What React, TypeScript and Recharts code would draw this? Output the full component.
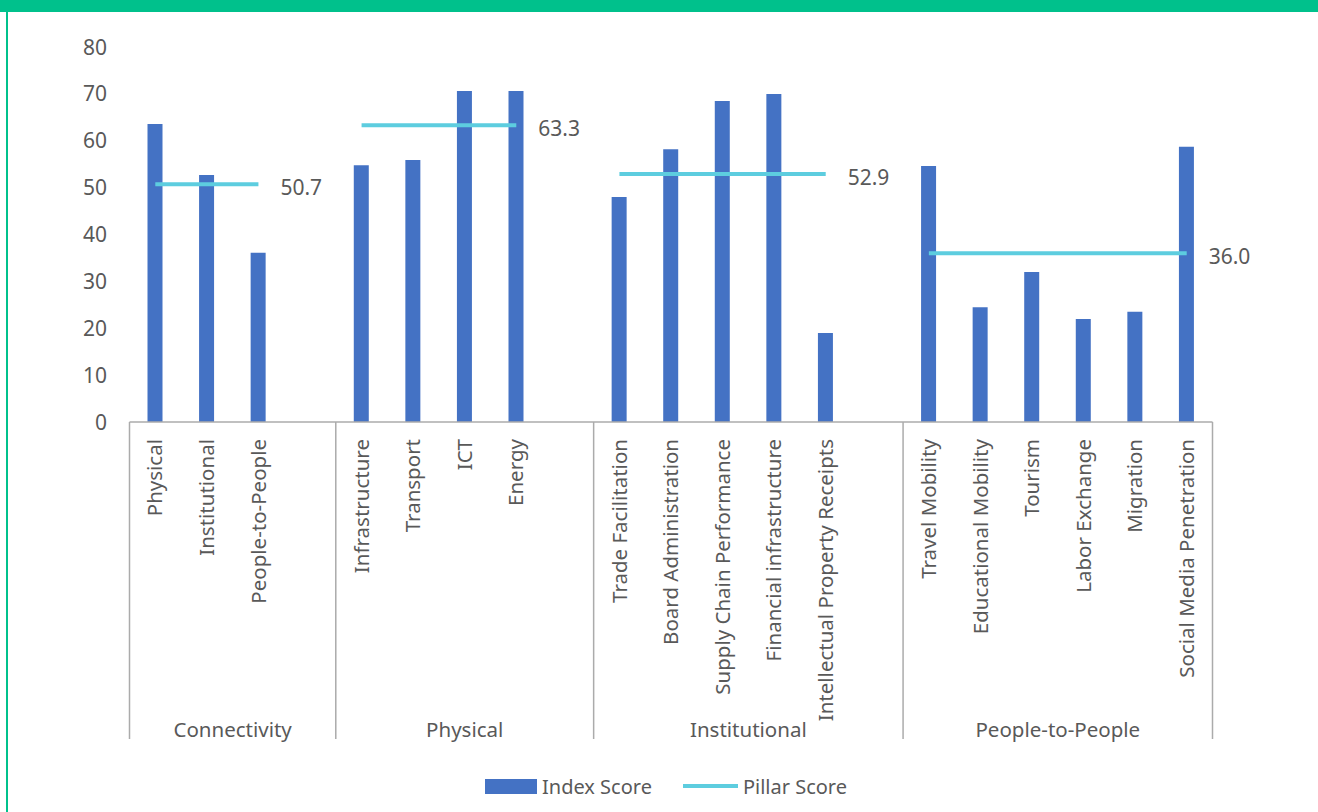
import React from 'react';
import { ComposedChart, Bar, Line, XAxis, YAxis, LabelList } from 'recharts';

const groupNames = ['Connectivity', 'Physical', 'Institutional', 'People-to-People'];
const groupItems = [
  ['Physical', 'Institutional', 'People-to-People'],
  ['Infrastructure', 'Transport', 'ICT', 'Energy'],
  ['Trade Facilitation', 'Board Administration', 'Supply Chain Performance', 'Financial infrastructure', 'Intellectual Property Receipts'],
  ['Travel Mobility', 'Educational Mobility', 'Tourism', 'Labor Exchange', 'Migration', 'Social Media Penetration'],
];
const indexScores = [
  [63.6, 52.7, 36.1],
  [54.8, 55.9, 70.6, 70.6],
  [48.0, 58.2, 68.5, 70.0, 19.0],
  [54.6, 24.5, 32.0, 22.0, 23.5, 58.7],
];
const pillarScores = [50.7, 63.3, 52.9, 36.0];
// a blank category follows each group except the last one
const blankAfter = [true, true, true, false];
const yTicks = [0, 10, 20, 30, 40, 50, 60, 70, 80];

type Row = {
  key: string;
  label: string;
  index: number | null;
  pillar: number | null;
  group: number;
  first: boolean;
  last: boolean;
};

const rows: Row[] = [];
groupItems.forEach((items, g) => {
  items.forEach((label, i) => {
    rows.push({
      key: `g${g}-${i}`,
      label,
      index: indexScores[g][i],
      pillar: pillarScores[g],
      group: g,
      first: i === 0,
      last: i === items.length - 1,
    });
  });
  if (blankAfter[g]) {
    rows.push({ key: `gap${g}`, label: '', index: null, pillar: null, group: g, first: false, last: false });
  }
});
const groupSpan = groupNames.map((_, g) => rows.filter(r => r.group === g).length);

const W = 1318;
const H = 812;
const PLOT_LEFT = 129.5;
const PLOT_RIGHT = 1212.5;
const PLOT_TOP = 47;
const PLOT_BOTTOM = 422;
const DIVIDER_BOTTOM = 739;
const BAND = (PLOT_RIGHT - PLOT_LEFT) / rows.length;
const FONT = "'Noto Sans', sans-serif";
const TEXT = '#595959';
const AXIS = '#ABABAB';
const BLUE = '#4472C4';
const CYAN = '#5DCDDF';
const GREEN = '#00C18C';

function CategoryTick(props: any) {
  const { x, payload } = props;
  const row = rows[payload.index];
  if (!row) return null;
  const left = x - BAND / 2;
  const isLastRow = payload.index === rows.length - 1;
  return (
    <g>
      {row.label && (
        <text
          x={x}
          y={439}
          dy="0.35em"
          transform={`rotate(-90, ${x}, 439)`}
          textAnchor="end"
          fill={TEXT}
          fontSize={20.5}
          fontFamily={FONT}
        >
          {row.label}
        </text>
      )}
      {row.first && (
        <>
          <line x1={left} y1={PLOT_BOTTOM} x2={left} y2={DIVIDER_BOTTOM} stroke={AXIS} strokeWidth={1.5} />
          <text
            x={left + (groupSpan[row.group] * BAND) / 2}
            y={737}
            textAnchor="middle"
            fill={TEXT}
            fontSize={20.5}
            fontFamily={FONT}
          >
            {groupNames[row.group]}
          </text>
        </>
      )}
      {isLastRow && (
        <line x1={x + BAND / 2} y1={PLOT_BOTTOM} x2={x + BAND / 2} y2={DIVIDER_BOTTOM} stroke={AXIS} strokeWidth={1.5} />
      )}
    </g>
  );
}

function ValueTick(props: any) {
  const { y, payload } = props;
  return (
    <text x={107} y={y} dy="0.36em" textAnchor="end" fill={TEXT} fontSize={21} fontFamily={FONT}>
      {payload.value}
    </text>
  );
}

function PillarLabel(props: any) {
  const { x, y, value, index } = props;
  const row = rows[index];
  if (!row || !row.last || value == null) return null;
  return (
    <text x={x + 22} y={y + 11} fill={TEXT} fontSize={21} fontFamily={FONT}>
      {Number(value).toFixed(1)}
    </text>
  );
}

export default function App() {
  return (
    <div style={{ position: 'fixed', left: 0, top: 0, width: W, height: H, background: '#fff', overflow: 'hidden' }}>
      <div style={{ position: 'absolute', left: 0, top: 0, width: W, height: 12, background: GREEN }} />
      <div style={{ position: 'absolute', left: 6, top: 0, width: 2, height: H, background: GREEN }} />
      <ComposedChart
        width={W}
        height={H}
        data={rows}
        margin={{ top: PLOT_TOP, right: W - PLOT_RIGHT, bottom: 0, left: PLOT_LEFT - 60 }}
      >
        <XAxis
          dataKey="key"
          interval={0}
          tickLine={false}
          axisLine={{ stroke: AXIS, strokeWidth: 1.5 }}
          height={H - PLOT_BOTTOM}
          tick={<CategoryTick />}
        />
        <YAxis
          width={60}
          domain={[0, 80]}
          ticks={yTicks}
          axisLine={false}
          tickLine={false}
          tick={<ValueTick />}
        />
        <Bar dataKey="index" fill={BLUE} barSize={15} isAnimationActive={false} />
        <Line
          dataKey="pillar"
          stroke={CYAN}
          strokeWidth={4}
          dot={false}
          connectNulls={false}
          isAnimationActive={false}
        >
          <LabelList dataKey="pillar" content={<PillarLabel />} />
        </Line>
      </ComposedChart>
      <div
        style={{
          position: 'absolute',
          top: 772,
          left: 485,
          display: 'flex',
          alignItems: 'center',
          fontFamily: FONT,
          fontSize: 20,
          color: TEXT,
          height: 28,
        }}
      >
        <span style={{ display: 'inline-block', width: 52, height: 15, background: BLUE, marginRight: 5 }} />
        <span>Index Score</span>
        <span style={{ display: 'inline-block', width: 55, height: 4, background: CYAN, marginLeft: 31, marginRight: 5 }} />
        <span>Pillar Score</span>
      </div>
    </div>
  );
}
